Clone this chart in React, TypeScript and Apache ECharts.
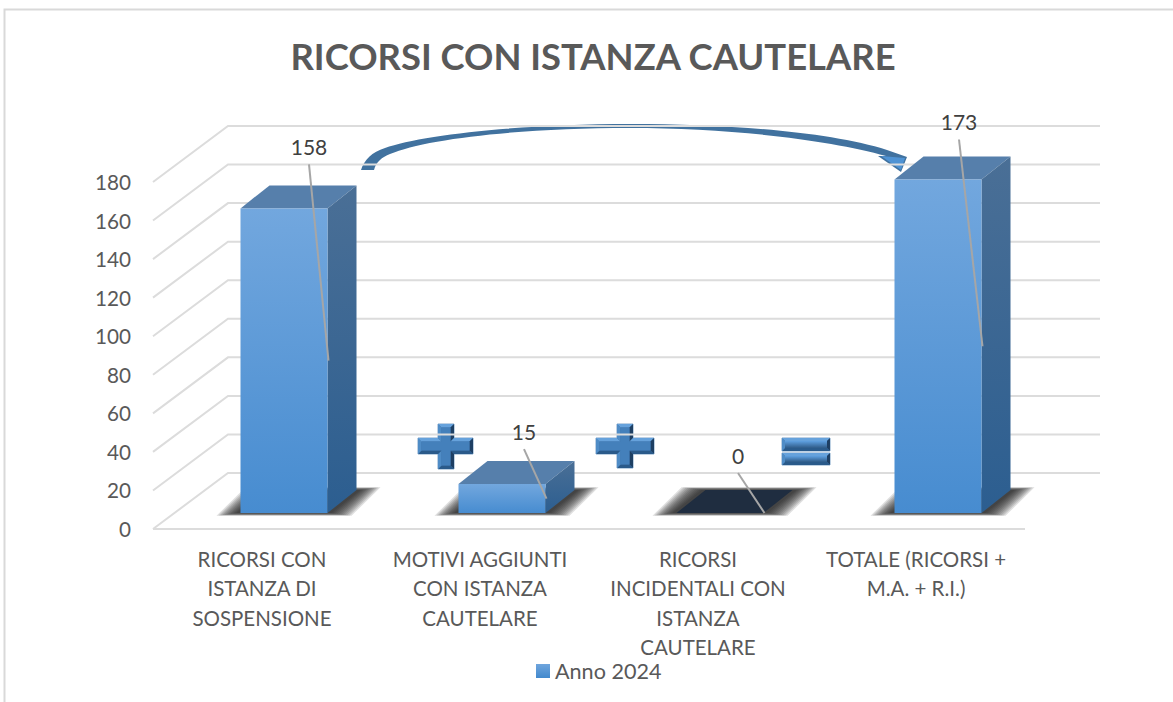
import React, { useEffect, useRef } from "react";
import * as echarts from "echarts";

const titleText = "RICORSI CON ISTANZA CAUTELARE";
const seriesName = "Anno 2024";
const categories = [
  "RICORSI CON\nISTANZA DI\nSOSPENSIONE",
  "MOTIVI AGGIUNTI\nCON ISTANZA\nCAUTELARE",
  "RICORSI\nINCIDENTALI CON\nISTANZA\nCAUTELARE",
  "TOTALE (RICORSI +\nM.A. + R.I.)",
];
const values = [158, 15, 0, 173];
const yTicks = [0, 20, 40, 60, 80, 100, 120, 140, 160, 180];

const FONT = "Lato";
const TEXT = "#595959";
const GRID = "#dcdcdc";
const WALL_DX = 75;
const WALL_DY = 56;
const BAR_OFF_X = 22;
const BAR_OFF_Y = 16;
const BAR_W = 87;
const BAR_DX = 29;
const BAR_DY = 23;
const labelNudge = [[3, -4], [0, 5], [-4, 0], [-1, 0]];
const shadowLayers = [20, 18, 16, 14, 12, 10, 8, 6, 4, 2, 0];

const vGrad = (a: string, b: string) =>
  new echarts.graphic.LinearGradient(0, 0, 0, 1, [
    { offset: 0, color: a },
    { offset: 1, color: b },
  ]);

function renderGrid(params: any, api: any) {
  const cs = params.coordSys;
  const y = api.coord([0, api.value(1)])[1];
  const yb = y - WALL_DY;
  const xb = cs.x + WALL_DX;
  const children: any[] = [
    {
      type: "polyline",
      shape: { points: [[cs.x, y], [xb, yb], [xb + cs.width, yb]] },
      style: { stroke: GRID, lineWidth: 2, fill: "none" },
    },
  ];
  if (api.value(1) === 0) {
    children.push({
      type: "line",
      shape: { x1: cs.x, y1: y, x2: cs.x + cs.width, y2: y },
      style: { stroke: GRID, lineWidth: 2 },
    });
  }
  return { type: "group", children };
}

function renderBar(params: any, api: any) {
  const i = params.dataIndex;
  const v = api.value(1);
  const [cx, y0raw] = api.coord([api.value(0), 0]);
  const yTopRaw = api.coord([api.value(0), v])[1];
  const y0 = y0raw - BAR_OFF_Y;
  const yt = yTopRaw - BAR_OFF_Y;
  const cxb = cx + BAR_OFF_X;
  const x0 = cxb - BAR_W / 2;
  const x1 = cxb + BAR_W / 2;
  const dx = BAR_DX;
  const dy = BAR_DY;
  const children: any[] = [];
  shadowLayers.forEach((e) => {
    const ev = e / 7;
    children.push({
      type: "polygon",
      shape: {
        points: [
          [x0 - 4 - e, y0 + ev],
          [x1 + 4 + e, y0 + ev],
          [x1 + dx + 4 + e, y0 - dy - ev],
          [x0 + dx - 4 - e, y0 - dy - ev],
        ],
      },
      style: { fill: "rgba(30,30,30,0.14)" },
    });
  });
  if (v === 0) {
    children.push({
      type: "polygon",
      shape: { points: [[x0, y0], [x1, y0], [x1 + dx, y0 - dy], [x0 + dx, y0 - dy]] },
      style: { fill: "#1f2d40" },
    });
  } else {
    children.push({
      type: "polygon",
      shape: { points: [[x0, yt], [x1, yt], [x1 + dx, yt - dy], [x0 + dx, yt - dy]] },
      style: { fill: "#567fab" },
    });
    children.push({
      type: "polygon",
      shape: { points: [[x1, yt], [x1 + dx, yt - dy], [x1 + dx, y0 - dy], [x1, y0]] },
      style: { fill: vGrad("#4a6f96", "#2c5e90") },
    });
    children.push({
      type: "rect",
      shape: { x: x0, y: yt, width: BAR_W, height: y0 - yt },
      style: { fill: vGrad("#72a7de", "#478cd0") },
    });
  }
  const lx = cxb + 22 + labelNudge[i][0];
  const ly = yt - 58 + labelNudge[i][1];
  const ly0 = ly + 18;
  children.push({
    type: "line",
    shape: { x1: lx, y1: ly0, x2: x1 + 1, y2: (y0 + yt) / 2 },
    style: { stroke: "#a6a6a6", lineWidth: 2 },
  });
  children.push({
    type: "text",
    style: {
      text: String(v),
      x: lx,
      y: ly,
      fill: "#404040",
      font: `21px ${FONT}`,
      align: "center",
      verticalAlign: "middle",
    },
  });
  return { type: "group", children };
}

const arrowPath =
  "M361,170 C364,160 372,152 385,148 C420,135 520,124 630,124 C730,124 830,132 887,150 L907,157 L901,172 L878,156 L886,156 C830,140 730,128 630,128 C520,128 425,139 390,154 C382,157 376,162 374,170 Z";

function plusPoints(x0: number, x1: number, x2: number, x3: number, y0: number, y1: number, y2: number, y3: number) {
  return [
    [x1, y0], [x2, y0], [x2, y1], [x3, y1], [x3, y2], [x2, y2],
    [x2, y3], [x1, y3], [x1, y2], [x0, y2], [x0, y1], [x1, y1],
  ];
}
const rectPoints = (x0: number, x1: number, y0: number, y1: number) => [
  [x0, y0], [x1, y0], [x1, y1], [x0, y1],
];

function bevel(outer: number[][], inner: number[][], innerFill: any) {
  const out: any[] = [{ type: "polygon", shape: { points: outer }, style: { fill: "#3a70a6", stroke: "#7ea3c8", lineWidth: 1 } }];
  outer.forEach((p, i) => {
    const j = (i + 1) % outer.length;
    const q = outer[j];
    let fill = "#5b97d2";
    if (q[0] > p[0]) fill = "#66a2dc";
    else if (q[0] < p[0]) fill = "#2a5a8a";
    else if (q[1] > p[1]) fill = "#1e3f63";
    else fill = "#4f8cc6";
    out.push({ type: "polygon", shape: { points: [p, q, inner[j], inner[i]] }, style: { fill } });
  });
  out.push({ type: "polygon", shape: { points: inner }, style: { fill: innerFill } });
  return out;
}

function plusShape(x0: number, x1: number, x2: number, x3: number, y0: number, y1: number, y2: number, y3: number) {
  const e = 3.5;
  return bevel(
    plusPoints(x0, x1, x2, x3, y0, y1, y2, y3),
    plusPoints(x0 + e, x1 + e, x2 - e, x3 - e, y0 + e, y1 + e, y2 - e, y3 - e),
    "#4480bb",
  );
}

function equalBar(x0: number, x1: number, y0: number, y1: number) {
  const e = 3;
  return bevel(rectPoints(x0, x1, y0, y1), rectPoints(x0 + e, x1 - e, y0 + e, y1 - e), vGrad("#5fa0e0", "#2f5b88"));
}

export default function App() {
  const ref = useRef<HTMLDivElement>(null);
  useEffect(() => {
    document.body.style.margin = "0";
    echarts.graphic.registerShape("curvedArrow", echarts.graphic.extendPath(arrowPath, {}));
    const chart = echarts.init(ref.current!, null, { renderer: "svg" });
    const swatch = vGrad("#6fa5dd", "#4289cd");
    chart.setOption({
      animation: false,
      backgroundColor: "#ffffff",
      title: {
        text: titleText,
        left: 588,
        top: 33,
        textAlign: "center",
        textStyle: { fontFamily: FONT, fontSize: 36.4, fontWeight: "bold", color: TEXT },
      },
      legend: {
        left: 531,
        top: 655,
        itemWidth: 14,
        itemHeight: 14,
        data: [{ name: seriesName, icon: "rect", itemStyle: { color: swatch } }],
        textStyle: { fontFamily: FONT, fontSize: 21.6, color: TEXT },
      },
      grid: { left: 153, top: 182, width: 872, height: 347, containLabel: false },
      xAxis: {
        type: "category",
        data: categories,
        axisLine: { show: false },
        axisTick: { show: false },
        axisLabel: {
          interval: 0,
          margin: 15,
          fontFamily: FONT,
          fontSize: 20.5,
          lineHeight: 29.4,
          color: TEXT,
          align: "center",
        },
      },
      yAxis: {
        type: "value",
        min: 0,
        max: 180,
        interval: 20,
        axisLine: { show: false },
        axisTick: { show: false },
        splitLine: { show: false },
        axisLabel: { margin: 22, fontFamily: FONT, fontSize: 20.7, color: TEXT, padding: [7, 0, 0, 0] },
      },
      series: [
        {
          name: "griglia",
          type: "custom",
          clip: false,
          z: 1,
          silent: true,
          data: yTicks.map((t) => [0, t]),
          encode: { x: 0, y: 1 },
          renderItem: renderGrid,
        },
        {
          name: seriesName,
          type: "custom",
          clip: false,
          z: 2,
          itemStyle: { color: "#4f90d2" },
          data: values.map((v, i) => [i, v]),
          encode: { x: 0, y: 1 },
          renderItem: renderBar,
        },
      ],
      graphic: [
        {
          type: "rect",
          z: 0,
          silent: true,
          shape: { x: 4.5, y: 9.5, width: 1300, height: 800 },
          style: { fill: "none", stroke: "#d9d9d9", lineWidth: 2 },
        },
        {
          type: "group",
          z: 10,
          children: [
            { type: "curvedArrow", style: { fill: "#41729f" } },
            { type: "polygon", shape: { points: [[881, 156], [905, 158], [901, 170]] }, style: { fill: "#4f93d4" } },
            ...plusShape(418, 438, 454, 473, 424, 438, 454, 469),
            ...plusShape(596, 617, 633, 654, 424, 438, 454, 468),
            ...equalBar(782, 830, 438, 451),
            ...equalBar(782, 830, 453, 465),
          ],
        },
      ],
    });
    return () => chart.dispose();
  }, []);
  return (
    <div
      ref={ref}
      style={{ position: "absolute", left: 0, top: 0, width: 1173, height: 702 }}
    />
  );
}
